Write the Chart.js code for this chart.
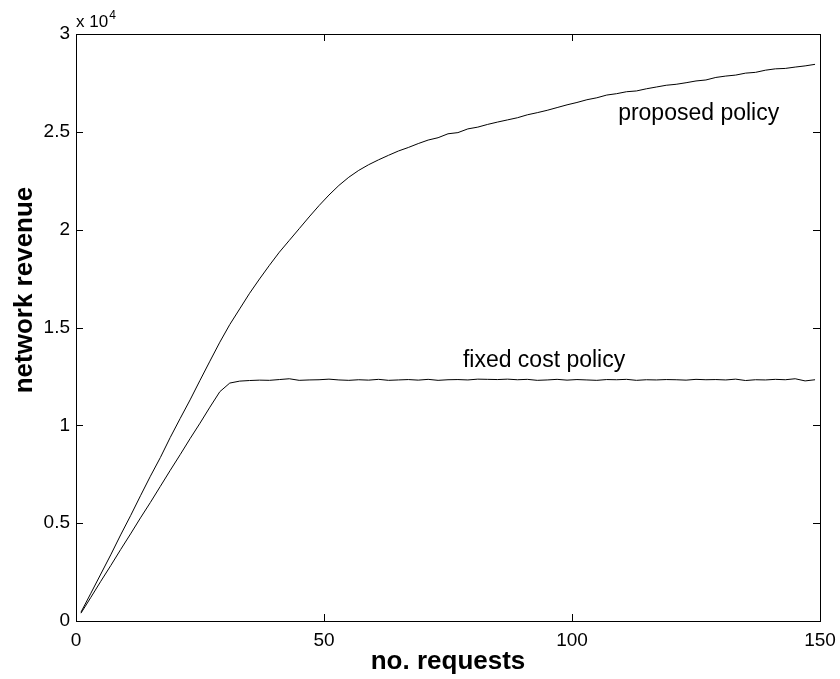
<!DOCTYPE html>
<html>
<head>
<meta charset="utf-8">
<script src="https://cdn.jsdelivr.net/npm/chart.js@4.4.0/dist/chart.umd.min.js"></script>
<style>
  html, body { margin: 0; padding: 0; background: #fff; }
</style>
</head>
<body>
<canvas id="revenueChart" width="840" height="679"></canvas>
<script>
// Data ----------------------------------------------------------------

// no. of requests (x), read every 2 requests
const requests = [
  1, 3, 5, 7, 9, 11, 13, 15, 17, 19, 21, 23, 25, 27, 29,
  31, 33, 35, 37, 39, 41, 43, 45, 47, 49, 51, 53, 55, 57, 59,
  61, 63, 65, 67, 69, 71, 73, 75, 77, 79, 81, 83, 85, 87, 89,
  91, 93, 95, 97, 99, 101, 103, 105, 107, 109, 111, 113, 115, 117, 119,
  121, 123, 125, 127, 129, 131, 133, 135, 137, 139, 141, 143, 145, 147, 149
];

// network revenue, proposed policy
const proposedPolicy = [
  450, 1420, 2400, 3380, 4400, 5380, 6400, 7400, 8350, 9380, 10350, 11300, 12300, 13280, 14250,
  15150, 15950, 16750, 17480, 18180, 18850, 19450, 20050, 20650, 21230, 21770, 22260, 22680, 23030, 23320,
  23570, 23800, 24020, 24200, 24400, 24580, 24700, 24900, 24960, 25150, 25240, 25380, 25500, 25610, 25720,
  25870, 25980, 26100, 26240, 26380, 26500, 26640, 26740, 26880, 26950, 27050, 27090, 27200, 27290, 27380,
  27430, 27510, 27600, 27650, 27780, 27850, 27900, 28000, 28040, 28150, 28220, 28240, 28310, 28370, 28450
];

// network revenue, fixed cost policy
const fixedCostPolicy = [
  400, 1210, 2030, 2830, 3650, 4450, 5270, 6060, 6880, 7700, 8500, 9320, 10110, 10930, 11720,
  12160, 12260, 12290, 12310, 12300, 12340, 12380, 12300, 12320, 12330, 12360, 12320, 12300, 12330, 12310,
  12350, 12300, 12320, 12340, 12310, 12350, 12300, 12330, 12340, 12320, 12360, 12350, 12340, 12360, 12330,
  12350, 12300, 12320, 12350, 12310, 12340, 12320, 12300, 12340, 12330, 12350, 12300, 12330, 12320, 12340,
  12330, 12310, 12350, 12330, 12340, 12320, 12360, 12290, 12330, 12320, 12350, 12330, 12380, 12270, 12330
];

const seriesNames = ['proposed policy', 'fixed cost policy'];
const xTicks = [0, 50, 100, 150];
const yTicks = [0, 5000, 10000, 15000, 20000, 25000, 30000];

// Look ----------------------------------------------------------------

const FONT = '"Liberation Sans", Arial, Helvetica, sans-serif';
const tickLen = 7;

// where the curve names sit (data coords, left edge / baseline)
const nameSpots = [
  { x: 109.3, y: 25600 },
  { x: 78.0, y: 13000 }
];

// box, inward ticks, exponent, y title and curve names (matlab look)
const matlabFrame = {
  id: 'matlabFrame',
  afterDraw(chart) {
    const ctx = chart.ctx;
    const a = chart.chartArea;
    const xs = chart.scales.x;
    const ys = chart.scales.y;

    ctx.save();
    ctx.strokeStyle = '#000';
    ctx.lineWidth = 1;
    ctx.strokeRect(Math.round(a.left) + 0.5, Math.round(a.top) + 0.5,
      Math.round(a.right - a.left), Math.round(a.bottom - a.top));

    ctx.beginPath();
    xTicks.forEach(v => {
      const px = Math.round(xs.getPixelForValue(v)) + 0.5;
      ctx.moveTo(px, a.bottom); ctx.lineTo(px, a.bottom - tickLen);
      ctx.moveTo(px, a.top); ctx.lineTo(px, a.top + tickLen);
    });
    yTicks.forEach(v => {
      const py = Math.round(ys.getPixelForValue(v)) + 0.5;
      ctx.moveTo(a.left, py); ctx.lineTo(a.left + tickLen, py);
      ctx.moveTo(a.right, py); ctx.lineTo(a.right - tickLen, py);
    });
    ctx.stroke();

    // x 10^4
    ctx.fillStyle = '#000';
    ctx.textAlign = 'left';
    ctx.textBaseline = 'alphabetic';
    ctx.font = '17px ' + FONT;
    ctx.fillText('x 10', a.left, 27);
    const w = ctx.measureText('x 10').width;
    ctx.font = '12px ' + FONT;
    ctx.fillText('4', a.left + w + 1, 19);

    // curve names
    ctx.font = '23px ' + FONT;
    seriesNames.forEach((name, i) => {
      ctx.fillText(name, xs.getPixelForValue(nameSpots[i].x), ys.getPixelForValue(nameSpots[i].y));
    });

    // y axis title
    ctx.font = 'bold 26px ' + FONT;
    ctx.translate(32, 290);
    ctx.rotate(-Math.PI / 2);
    ctx.textAlign = 'center';
    ctx.fillText('network revenue', 0, 0);
    ctx.restore();
  }
};

// Chart ---------------------------------------------------------------

const toPoints = vals => vals.map((v, i) => ({ x: requests[i], y: v }));

const data = {
  datasets: [
    {
      label: seriesNames[0],
      data: toPoints(proposedPolicy),
      borderColor: '#000',
      borderWidth: 1,
      pointRadius: 0,
      tension: 0
    },
    {
      label: seriesNames[1],
      data: toPoints(fixedCostPolicy),
      borderColor: '#000',
      borderWidth: 1,
      pointRadius: 0,
      tension: 0
    }
  ]
};

const config = {
  type: 'line',
  data,
  options: {
    responsive: false,
    animation: false,
    layout: { padding: { top: 34, right: 20, left: 0, bottom: 0 } },
    plugins: {
      legend: { display: false },
      tooltip: { enabled: false }
    },
    scales: {
      x: {
        type: 'linear',
        min: 0,
        max: 150,
        afterBuildTicks: s => { s.ticks = xTicks.map(v => ({ value: v })); },
        afterFit: s => { s.height = 58; s.paddingLeft = 0; s.paddingRight = 0; },
        grid: { display: false, drawTicks: false },
        border: { display: false },
        ticks: { color: '#000', padding: 8, maxRotation: 0, font: { family: FONT, size: 19 } },
        title: {
          display: true,
          text: 'no. requests',
          color: '#000',
          padding: { top: 0, bottom: 2 },
          font: { family: FONT, size: 26, weight: 'bold' }
        }
      },
      y: {
        type: 'linear',
        min: 0,
        max: 30000,
        afterBuildTicks: s => { s.ticks = yTicks.map(v => ({ value: v })); },
        afterFit: s => { s.width = 76; s.paddingTop = 0; s.paddingBottom = 0; },
        grid: { display: false, drawTicks: false },
        border: { display: false },
        ticks: {
          color: '#000',
          padding: 6,
          font: { family: FONT, size: 19 },
          callback: v => String(v / 10000)
        }
      }
    }
  },
  plugins: [matlabFrame]
};

const revenueChart = new Chart(document.getElementById('revenueChart'), config);
</script>
</body>
</html>
